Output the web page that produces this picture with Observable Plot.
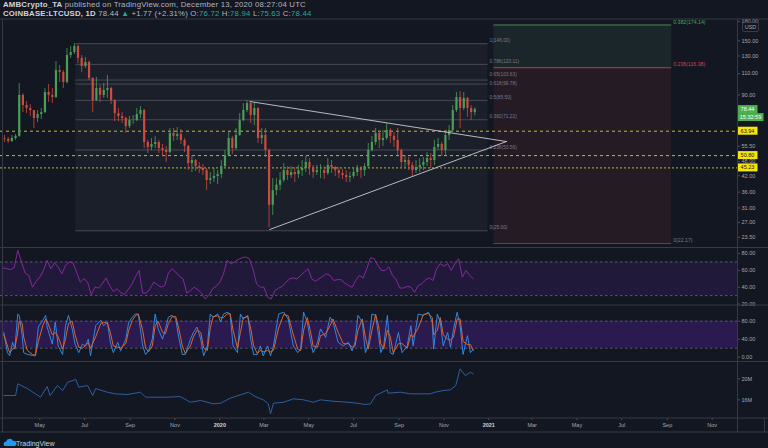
<!DOCTYPE html>
<html><head><meta charset="utf-8">
<script src="https://cdn.jsdelivr.net/npm/d3@7"></script>
<script src="https://cdn.jsdelivr.net/npm/@observablehq/plot@0.6"></script>
<style>
html,body{margin:0;padding:0;background:#131722;}
#root{position:relative;width:768px;height:448px;overflow:hidden;background:#131722;font-family:"Liberation Sans",Arial,sans-serif;}
.hdr{position:absolute;left:3px;color:#b2b5be;white-space:nowrap;font-size:7.8px;line-height:9px;letter-spacing:0.2px;}
.hdr b{color:#d1d4dc;}
.tl{color:#26a69a;}
</style></head><body><div id="root"></div>
<script>
// ---------- DATA ----------
const candleStart = "2019-03-14"; // 5-day candles
const candleStepDays = 5;
const firstOpen = 59.5;
const closes = [59.2,58.0,59.7,60.9,89.6,81.5,79.2,77.7,72.1,74.8,
76.2,92.1,89.6,87.9,113.4,111.3,101.3,130.6,134.3,142.1,
127.0,117.7,122.3,105.2,85.4,95.7,89.6,93.9,95.7,85.4,
75.5,73.4,72.1,66.8,70.7,70.7,74.8,77.7,57.5,54.9,
56.4,57.5,54.3,53.3,52.3,62.6,60.9,62.0,58.6,55.4,
47.1,48.5,45.8,45.0,44.1,40.2,40.9,41.7,42.5,45.8,
50.8,59.7,54.3,61.4,70.7,77.7,83.0,74.1,79.2,59.7,
61.4,53.3,31.8,36.5,38.4,40.2,44.1,42.1,43.3,42.5,
44.1,45.0,47.6,45.4,43.3,44.1,44.1,42.9,46.3,45.4,
44.1,42.9,42.1,41.3,41.7,43.3,45.0,44.1,45.8,53.3,
57.5,62.6,58.6,59.7,64.4,60.9,58.6,53.3,47.6,48.5,
46.3,44.1,45.4,46.3,47.6,49.4,48.5,54.9,56.4,53.3,
61.4,64.4,77.7,87.9,79.2,87.1,79.2,76.2,78.44];
const highs = [61.4,60.3,61.4,62.0,100.3,91.0,84.6,82.2,77.7,77.7,
79.2,95.7,99.4,95.7,123.4,118.9,113.4,139.5,142.1,146.2,
144.0,130.6,128.2,124.0,106.0,106.2,98.5,100.3,108.2,97.0,
86.0,79.2,76.2,73.0,73.4,74.1,79.2,80.7,78.5,58.6,
59.7,60.9,58.6,56.4,55.4,65.6,65.6,66.2,65.0,59.7,
56.0,50.8,49.0,47.6,46.7,45.0,43.3,45.0,44.1,48.5,
53.3,63.2,60.9,65.6,75.5,83.0,85.4,83.8,83.8,80.0,
65.6,65.6,54.0,40.9,40.9,43.3,47.1,45.8,45.8,45.4,
46.3,48.5,50.4,49.4,46.3,46.3,46.7,45.8,49.4,48.5,
45.8,45.4,44.6,44.1,43.3,45.0,46.3,45.8,47.1,57.0,
60.9,65.6,63.5,64.4,68.7,65.6,63.2,65.6,54.0,50.8,
49.9,47.6,48.5,49.4,49.9,52.3,51.8,58.6,59.7,57.5,
64.4,67.4,81.5,92.1,93.0,92.1,88.0,81.5,79.7];
const lows = [57.5,57.0,57.5,58.6,60.3,76.2,75.5,73.4,65.6,69.4,
71.4,75.5,83.8,83.0,87.0,101.3,95.7,100.0,127.0,131.8,
121.1,111.3,115.6,103.2,76.2,84.5,83.8,87.1,87.1,82.2,
70.0,70.0,68.7,62.6,65.6,68.1,70.0,72.1,54.3,51.8,
53.3,54.3,51.8,50.4,47.6,51.5,58.0,58.6,56.4,52.3,
44.1,43.3,43.7,42.9,42.1,36.5,38.7,39.4,38.7,40.9,
45.0,50.4,51.3,53.3,60.9,70.0,76.2,68.7,67.4,57.0,
56.4,49.9,25.7,28.9,34.8,36.5,39.4,40.2,40.9,39.4,
40.9,41.7,43.3,42.1,40.9,42.1,40.9,40.5,42.1,42.9,
41.7,40.9,40.5,39.4,39.4,40.9,41.7,40.9,41.7,45.0,
52.5,55.9,54.3,55.4,58.6,57.0,54.9,50.8,45.0,45.4,
44.1,41.7,42.9,43.3,44.1,45.8,45.0,46.3,53.3,50.4,
50.8,58.6,63.2,76.2,65.6,77.7,72.8,70.7,74.0];

// Fibonacci retracement (Jun 2019 high -> Mar 2020 low)
const fibStart = "2019-06-19", fibEnd = "2020-12-31";
const fibLevels = [1, 0.786, 0.65, 0.618, 0.5, 0.382, 0.236, 0];
const fibPrices = [146.00, 120.11, 103.63, 99.78, 85.50, 71.22, 53.56, 25.00];
// Fibonacci extension block on the right
const extStart = "2021-01-08", extEnd = "2021-09-07";
const extLevels = [0.382, 0.236, 0];
const extPrices = [174.14, 116.38, 22.17];
// Horizontal support / resistance lines
const hLevels = [63.94, 50.80, 45.23];
// Symmetrical triangle
const triUpperDates = ["2020-02-11", "2021-01-25"], triUpperPrices = [84.6, 58.0];
const triLowerDates = ["2020-03-09", "2021-01-25"], triLowerPrices = [25.3, 58.0];
const priceTicks = [180, 150, 130, 110, 90, 55.5, 48, 42, 36, 31, 27, 23.5];

// RSI (5-day samples)
const indStart = "2019-03-12";
const rsi = [63,62,61,63,84,70,57,54,40,47,
52,60,72,62,69,64,56,66,70,69,
58,46,50,46,31,40,39,44,51,42,
35,38,34,31,37,43,52,60,33,33,
38,46,43,40,42,57,62,58,53,50,
33,36,40,37,33,26,30,38,41,46,
56,72,68,70,73,75,76,74,62,44,
40,40,28,26,36,39,41,46,50,51,
50,54,58,62,50,47,50,53,56,54,
48,49,49,45,42,40,48,54,51,62,
75,74,66,60,60,64,54,49,39,39,
41,40,34,42,44,49,51,48,62,68,
65,68,60,68,74,52,60,54,50];
const rsiTicks = [80, 60, 40, 20];

// Stochastic RSI (day offsets from indStart)
const stochDay = [1,6,9,13,16,20,22,26,28,33,40,44,48,54,58,60,67,71,75,81,85,89,94,98,103,108,112,116,119,126,133,137,142,146,150,156,160,167,171,176,180,184,190,194,198,203,207,211,217,221,225,230,235,239,244,248,255,259,264,269,273,278,282,286,292,296,300,305,309,313,319,323,327,333,337,341,346,350,354,360,364,368,375,382,388,395,401,405,409,414,418,422,428,432,439,445,449,456,463,470,475,479,483,489,493,497,502,507,511,514,518,523,527,531,538,543,550,555,558,565,572,579,584,586,591,595,599,605,609,613,618,622,626,632,636,640];
const stochK = [55,10,3,33,18,96,93,48,10,6,4,3,67,82,93,67,29,78,25,6,70,93,63,29,10,29,25,40,3,70,82,70,78,33,10,33,14,40,78,89,96,96,25,6,14,40,96,63,40,63,89,93,85,44,6,6,40,55,67,40,3,25,96,89,96,78,96,100,96,25,10,96,85,93,40,6,6,25,3,25,3,25,96,100,85,25,10,18,100,78,40,10,33,63,44,89,78,33,25,33,14,33,93,78,10,25,96,93,48,10,25,93,10,6,55,10,25,70,25,96,93,100,78,18,96,78,25,55,22,63,100,70,6,48,10,18];
const stochD = [50,25,10,18,20,55,80,75,45,15,6,4,35,70,85,80,50,55,45,18,40,75,80,50,22,20,25,32,20,45,75,78,75,55,25,22,20,30,60,82,92,96,60,20,12,25,70,80,55,52,75,90,90,65,25,8,25,45,60,55,20,15,65,90,92,88,88,96,97,60,20,55,88,90,65,25,8,15,12,15,12,15,65,95,92,50,18,15,60,88,60,25,22,48,52,70,85,55,30,30,22,25,60,85,45,18,60,95,70,30,18,60,45,10,30,30,20,50,45,65,95,97,88,50,60,88,50,40,38,45,85,85,35,28,28,15];
const stochTicks = [80, 40, 0];

// Volume-based line (millions), day offsets from indStart
const obvDay = [1,17,20,33,51,60,64,74,81,88,99,103,115,122,126,142,153,169,187,194,224,241,255,269,286,296,309,323,334,343,354,361,364,368,382,395,409,422,432,449,469,482,493,500,507,523,524,541,554,568,581,588,599,609,616,622,629,636,640];
const obvVal = [16.82,16.82,19.05,18.15,16.50,18.53,16.82,18.72,17.77,19.35,19.87,18.40,18.72,16.82,18.15,17.45,17.14,17.01,17.45,16.50,16.50,16.63,15.54,15.87,15.24,15.35,16.30,16.95,17.45,16.63,16.00,15.24,13.33,15.35,15.54,16.19,16.00,15.54,16.00,15.73,15.54,15.35,15.10,15.24,16.82,17.90,17.26,17.45,17.14,17.14,17.14,17.45,17.77,17.90,18.72,21.90,20.63,21.26,20.95];
const obvTicks = [20, 16];

// ---------- BUILD ----------
const DAY = 864e5;
const d0 = (s) => new Date(s + "T00:00:00Z");
const addDays = (s, n) => new Date(d0(s).getTime() + n * DAY);
const xDomain = [new Date("2019-03-08T12:00:00Z"), new Date("2021-12-05T12:00:00Z")];
const UP = "#4a9e57", DOWN = "#cf4a40";
const FONT = "Liberation Sans, Arial, sans-serif";
const AX = "#a3a6af";

const candles = closes.map((c, i) => ({
  date: addDays(candleStart, i * candleStepDays),
  open: i ? closes[i - 1] : firstOpen, close: c, high: highs[i], low: lows[i]
}));
const fibData = fibLevels.map((l, i) => ({level: l, price: fibPrices[i], label: `${l}(${fibPrices[i].toFixed(2)})`}));
const extData = extLevels.map((l, i) => ({level: l, price: extPrices[i], label: `${l}(${extPrices[i].toFixed(2)})`}));
const extColors = ["#3f8a49", "#b23f48", "#4a4e59"];
const extLabelColors = ["#4fa35a", "#c9474f", "#787b86"];
const tri = [
  ...triUpperDates.map((d, i) => ({g: "u", date: d0(d), price: triUpperPrices[i]})),
  ...triLowerDates.map((d, i) => ({g: "l", date: d0(d), price: triLowerPrices[i]}))
];
const rsiData = rsi.map((v, i) => ({date: addDays(indStart, i * 5), v}));
const stochData = stochDay.map((d, i) => ({date: addDays(indStart, d), k: stochK[i], d: stochD[i]}));
const obvData = obvDay.map((d, i) => ({date: addDays(indStart, d), v: obvVal[i]}));

const root = document.getElementById("root");
function place(el, top) {
  el.style.position = "absolute"; el.style.left = "0px"; el.style.top = top + "px";
  el.style.overflow = "visible"; el.style.background = "transparent"; el.style.maxWidth = "none";
  root.appendChild(el);
}
const style = {background: "transparent", color: AX, fontFamily: FONT, fontSize: "5.5px", overflow: "visible"};
const yAxis = (ticks, fmt) => Plot.axisY({anchor: "right", ticks, tickFormat: fmt, tickSize: 2, tickPadding: 2, stroke: "#4a4e59", fill: AX, label: null});
const fibText = (data, dy) => Plot.text(data, {y: "price", x: () => d0(fibEnd), text: "label", dx: 1.5, dy, textAnchor: "start", fill: "#787b86", fontSize: 4.8});

// Header
const h1 = document.createElement("div"); h1.className = "hdr"; h1.style.top = "0px";
h1.innerHTML = "<b>AMBCrypto_TA</b> published on TradingView.com, December 13, 2020 08:27:04 UTC";
root.appendChild(h1);
const h2 = document.createElement("div"); h2.className = "hdr"; h2.style.top = "9px";
h2.innerHTML = '<b>COINBASE:LTCUSD, 1D</b> 78.44 <span class="tl">▲</span> +1.77 (+2.31%) O:<span class="tl">76.72</span> H:<span class="tl">78.94</span> L:<span class="tl">75.63</span> C:<span class="tl">78.44</span>';
root.appendChild(h2);

// Main price panel
const main = Plot.plot({
  width: 768, height: 228, marginLeft: 0, marginRight: 31, marginTop: 0, marginBottom: 0,
  style,
  x: {type: "utc", domain: xDomain, axis: null},
  y: {type: "log", domain: [21.35, 183.4], label: null},
  color: {type: "identity"},
  marks: [
    Plot.rect([0], {x1: () => d0(fibStart), x2: () => d0(fibEnd), y1: 25, y2: 146, fill: "#1b1f2a"}),
    Plot.rect([0], {x1: () => d0(extStart), x2: () => d0(extEnd), y1: extPrices[1], y2: extPrices[0], fill: "#1b262b"}),
    Plot.rect([0], {x1: () => d0(extStart), x2: () => d0(extEnd), y1: extPrices[2], y2: extPrices[1], fill: "#251b25"}),
    Plot.ruleY(fibData, {y: "price", x1: () => d0(fibStart), x2: () => d0(fibEnd), stroke: "#464a55", strokeWidth: 1}),
    fibText(fibData.filter(d => d.level !== 0.65 && d.level !== 0.618), -3),
    fibText(fibData.filter(d => d.level === 0.65), -5.2),
    fibText(fibData.filter(d => d.level === 0.618), -0.6),
    Plot.ruleY(extData, {y: "price", x1: () => d0(extStart), x2: () => d0(extEnd), stroke: (d, i) => extColors[i], strokeWidth: 1}),
    Plot.text(extData, {y: "price", x: () => d0(extEnd), text: "label", dx: 1.5, dy: -3, textAnchor: "start", fill: (d, i) => extLabelColors[i], fontSize: 5.2}),
    Plot.ruleY(hLevels.slice(0, 2), {stroke: "#c9bb0e", strokeDasharray: "3,3", strokeWidth: 1}),
    Plot.ruleY(hLevels.slice(2), {stroke: "#9a9a1c", strokeDasharray: "2,2", strokeWidth: 1.2}),
    Plot.ruleX(candles, {x: "date", y1: "low", y2: "high", stroke: d => d.close >= d.open ? UP : DOWN, strokeWidth: 0.8}),
    Plot.ruleX(candles, {x: "date", y1: "open", y2: "close", stroke: d => d.close >= d.open ? UP : DOWN, strokeWidth: 2.2}),
    Plot.line(tri, {x: "date", y: "price", z: "g", stroke: "#c9cbd1", strokeWidth: 0.9}),
    yAxis(priceTicks, d => d.toFixed(2))
  ]
});
place(main, 19);
{
  const ys = main.scale("y");
  const g = d3.select(main).append("g").attr("font-family", FONT).attr("font-size", 5.5).attr("text-anchor", "middle");
  const last = closes[closes.length - 1];
  const boxes = [
    {v: last, t: last.toFixed(2), bg: "#4caf50", fg: "#ffffff", w: 20, dy: 0},
    {v: last, t: "15:32:59", bg: "#4caf50", fg: "#ffffff", w: 26, dy: 8},
    {v: hLevels[0], t: hLevels[0].toFixed(2), bg: "#f4e609", fg: "#131722", w: 20, dy: 0},
    {v: hLevels[1], t: hLevels[1].toFixed(2), bg: "#f4e609", fg: "#131722", w: 20, dy: 0},
    {v: hLevels[2], t: hLevels[2].toFixed(2), bg: "#f4e609", fg: "#131722", w: 20, dy: 0}
  ];
  for (const b of boxes) {
    const y = ys.apply(b.v) + b.dy;
    g.append("rect").attr("x", 737.5).attr("y", y - 4).attr("width", b.w).attr("height", 8).attr("fill", b.bg);
    g.append("text").attr("x", 737.5 + b.w / 2).attr("y", y + 2).attr("fill", b.fg).text(b.t);
  }
  g.append("rect").attr("x", 742.5).attr("y", 3.5).attr("width", 16).attr("height", 9).attr("rx", 1.5)
    .attr("fill", "#131722").attr("stroke", "#434651").attr("stroke-width", 0.8);
  g.append("text").attr("x", 750.5).attr("y", 10).attr("fill", AX).text("USD");
}

// RSI panel
const rsiPlot = Plot.plot({
  width: 768, height: 57, marginLeft: 0, marginRight: 31, marginTop: 0, marginBottom: 0,
  style, x: {type: "utc", domain: xDomain, axis: null}, y: {domain: [18.2, 86.1], label: null},
  marks: [
    Plot.rect([0], {x1: () => xDomain[0], x2: () => xDomain[1], y1: 30, y2: 70, fill: "#21193a"}),
    Plot.ruleY([70, 30], {stroke: "#6a6d78", strokeDasharray: "2.5,2.5", strokeWidth: 0.8}),
    Plot.line(rsiData, {x: "date", y: "v", stroke: "#8e2aa8", strokeWidth: 0.9}),
    yAxis(rsiTicks, d => d.toFixed(2))
  ]
});
place(rsiPlot, 248);

// Stochastic RSI panel
const stPlot = Plot.plot({
  width: 768, height: 56, marginLeft: 0, marginRight: 31, marginTop: 0, marginBottom: 0,
  style, x: {type: "utc", domain: xDomain, axis: null}, y: {domain: [-9.6, 114.9], label: null},
  marks: [
    Plot.rect([0], {x1: () => xDomain[0], x2: () => xDomain[1], y1: 20, y2: 80, fill: "#2b1a50"}),
    Plot.ruleY([80, 20], {stroke: "#6a6d78", strokeDasharray: "2.5,2.5", strokeWidth: 0.8}),
    Plot.line(stochData, {x: "date", y: "k", stroke: "#2f88dc", strokeWidth: 1}),
    Plot.line(stochData, {x: "date", y: "d", stroke: "#d9652e", strokeWidth: 1}),
    yAxis(stochTicks, d => d.toFixed(2))
  ]
});
place(stPlot, 305);

// Volume-based line panel + time axis
const obvPlot = Plot.plot({
  width: 768, height: 71, marginLeft: 0, marginRight: 31, marginTop: 0, marginBottom: 14,
  style, x: {type: "utc", domain: xDomain, label: null}, y: {domain: [12.44, 23.3], label: null},
  marks: [
    Plot.line(obvData, {x: "date", y: "v", stroke: "#2f5d9e", strokeWidth: 1}),
    yAxis(obvTicks, d => d + "M"),
    Plot.axisX({anchor: "bottom", ticks: d3.utcMonth.every(2).range(xDomain[0], xDomain[1]),
      tickFormat: d => d.getUTCMonth() === 0 ? String(d.getUTCFullYear()) : d3.utcFormat("%b")(d),
      tickSize: 2, tickPadding: 3, stroke: "#4a4e59", fill: AX, label: null})
  ]
});
place(obvPlot, 361);
d3.select(obvPlot).selectAll("text").filter(function() { return /^\d{4}$/.test(this.textContent); })
  .attr("font-weight", "bold").attr("fill", "#d1d4dc");

// Frame lines
const frame = d3.create("svg").attr("width", 768).attr("height", 448)
  .style("position", "absolute").style("left", "0px").style("top", "0px").style("pointer-events", "none");
const FC = "#363a45";
for (const y of [19, 247.5, 305, 361.5, 418, 432]) frame.append("line").attr("x1", 0).attr("x2", 768).attr("y1", y).attr("y2", y).attr("stroke", FC);
frame.append("line").attr("x1", 737.5).attr("x2", 737.5).attr("y1", 19).attr("y2", 432).attr("stroke", FC);
frame.append("line").attr("x1", 2.5).attr("x2", 2.5).attr("y1", 19).attr("y2", 432).attr("stroke", FC);
frame.append("line").attr("x1", 764.5).attr("x2", 764.5).attr("y1", 418).attr("y2", 432).attr("stroke", FC);
root.appendChild(frame.node());

// Logo
const logo = document.createElement("div");
logo.style.cssText = "position:absolute;left:3px;top:435px;";
logo.innerHTML = '<svg width="60" height="12"><path d="M1.5 9 a2.6 2.6 0 0 1 1.6-4.6 a3.8 3.8 0 0 1 7 -0.4 a2.5 2.5 0 0 1 1.6 5z" fill="#2196f3"/><text x="13" y="8.5" font-size="7" font-family="Liberation Sans, Arial, sans-serif" fill="#d1d4dc">TradingView</text></svg>';
root.appendChild(logo);
</script></body></html>
